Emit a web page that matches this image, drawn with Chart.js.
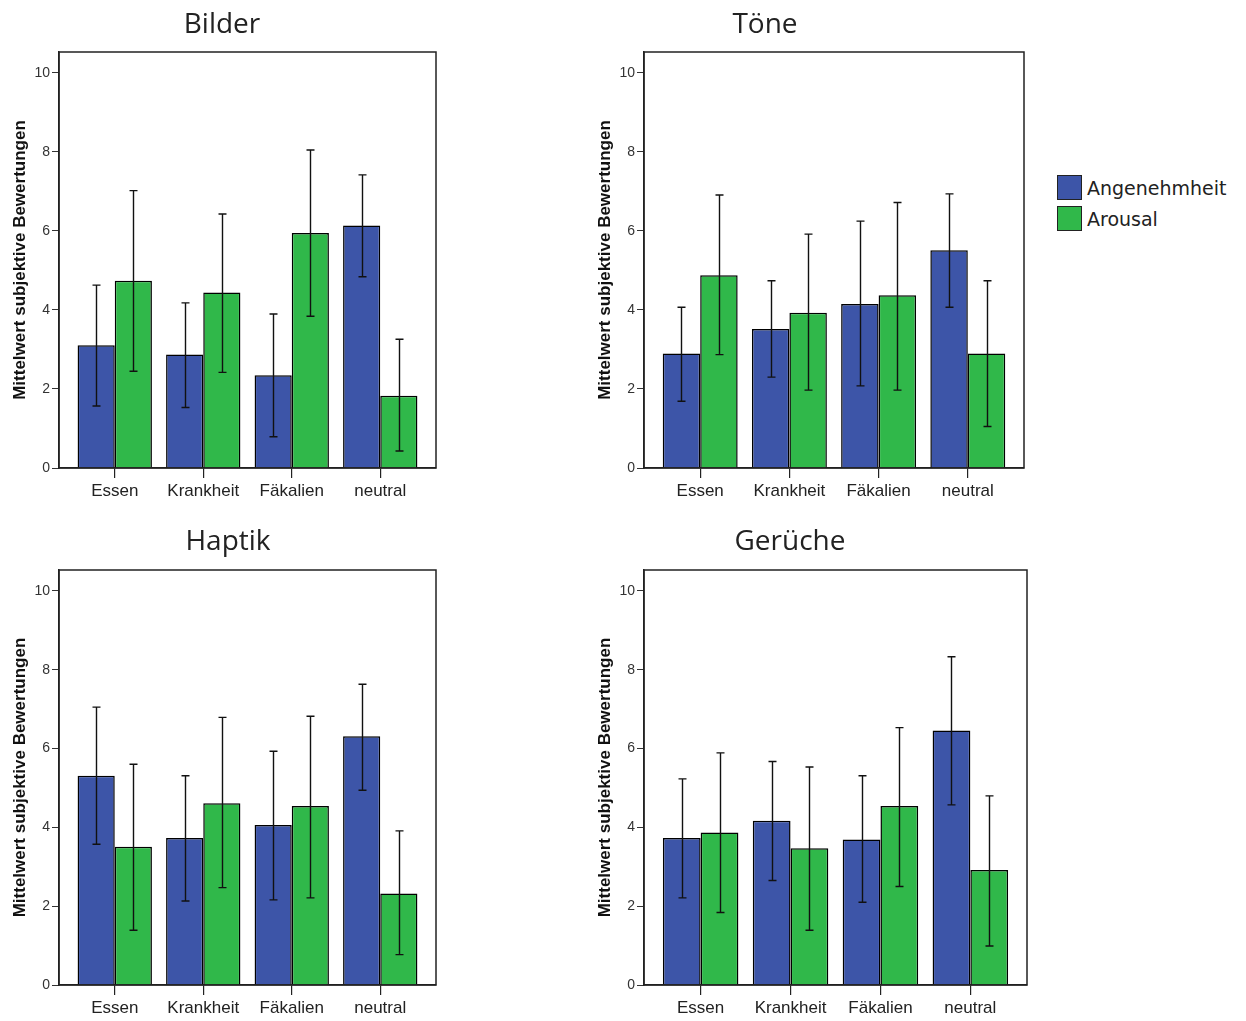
<!DOCTYPE html>
<html>
<head>
<meta charset="utf-8">
<script src="https://cdn.jsdelivr.net/npm/chart.js@4/dist/chart.umd.min.js"></script>
<style>
  body { margin:0; background:#fff; width:1246px; height:1021px; position:relative; overflow:hidden; }
  canvas { position:absolute; }
  #legend { position:absolute; left:1057px; top:172px; font-family:"DejaVu Sans", Verdana, sans-serif; font-size:19px; color:#222; }
  .item { display:flex; align-items:center; height:31px; }
  .box { width:23px; height:23px; border:1px solid #222; margin-right:5px; }
</style>
</head>
<body>
<canvas id="c1" width="460" height="520" style="left:0;top:0"></canvas>
<canvas id="c2" width="460" height="520" style="left:585px;top:0"></canvas>
<canvas id="c3" width="460" height="520" style="left:0;top:518px"></canvas>
<canvas id="c4" width="460" height="520" style="left:585px;top:518px"></canvas>
<div id="legend"></div>
<script>
const categories = ['Essen', 'Krankheit', 'Fäkalien', 'neutral']
const seriesNames = ['Angenehmheit', 'Arousal']
const seriesColors = ['#3d55a8', '#30b84a']
const yTicks = [0, 2, 4, 6, 8, 10]

// Bilder
const bilderAng = [3.11, 2.87, 2.35, 6.14]
const bilderAngLo = [1.57, 1.53, 0.79, 4.84]
const bilderAngHi = [4.63, 4.18, 3.90, 7.42]
const bilderAro = [4.74, 4.44, 5.95, 1.83]
const bilderAroLo = [2.45, 2.42, 3.84, 0.43]
const bilderAroHi = [7.02, 6.43, 8.05, 3.26]

// Töne
const toeneAng = [2.90, 3.52, 4.15, 5.51]
const toeneAngLo = [1.69, 2.30, 2.08, 4.07]
const toeneAngHi = [4.07, 4.74, 6.25, 6.94]
const toeneAro = [4.88, 3.93, 4.37, 2.90]
const toeneAroLo = [2.87, 1.97, 1.97, 1.05]
const toeneAroHi = [6.91, 5.92, 6.72, 4.74]

// Haptik
const haptikAng = [5.31, 3.73, 4.06, 6.31]
const haptikAngLo = [3.57, 2.13, 2.16, 4.94]
const haptikAngHi = [7.05, 5.31, 5.93, 7.63]
const haptikAro = [3.51, 4.61, 4.54, 2.32]
const haptikAroLo = [1.39, 2.47, 2.21, 0.77]
const haptikAroHi = [5.60, 6.79, 6.82, 3.91]

// Gerüche
const geruecheAng = [3.73, 4.17, 3.69, 6.46]
const geruecheAngLo = [2.21, 2.65, 2.10, 4.57]
const geruecheAngHi = [5.23, 5.67, 5.31, 8.33]
const geruecheAro = [3.87, 3.47, 4.54, 2.92]
const geruecheAroLo = [1.84, 1.39, 2.50, 0.99]
const geruecheAroHi = [5.89, 5.53, 6.53, 4.80]

//=============== PLUGINS: frame, error bars, panel title ===============
const framePlugin = {
  id: 'frame',
  afterDraw(chart) {
    const a = chart.chartArea, ctx = chart.ctx
    ctx.save()
    ctx.strokeStyle = '#222'
    ctx.lineWidth = 1.5
    ctx.strokeRect(a.left, a.top, a.right - a.left, a.bottom - a.top)
    ctx.restore()
  }
}

const errorBarPlugin = {
  id: 'errorBars',
  afterDatasetsDraw(chart) {
    const ctx = chart.ctx, y = chart.scales.y
    ctx.save()
    ctx.strokeStyle = '#111'
    ctx.lineWidth = 1.4
    chart.data.datasets.forEach((ds, di) => {
      chart.getDatasetMeta(di).data.forEach((bar, i) => {
        const x = Math.round(bar.x) + 0.5
        const top = y.getPixelForValue(ds.hi[i])
        const bot = y.getPixelForValue(ds.lo[i])
        ctx.beginPath()
        ctx.moveTo(x, top); ctx.lineTo(x, bot)
        ctx.moveTo(x - 4, top); ctx.lineTo(x + 4, top)
        ctx.moveTo(x - 4, bot); ctx.lineTo(x + 4, bot)
        ctx.stroke()
      })
    })
    ctx.restore()
  }
}

const titlePlugin = {
  id: 'panelTitle',
  afterDraw(chart, args, opts) {
    const ctx = chart.ctx
    ctx.save()
    ctx.font = '28px "Open Sans", sans-serif'
    ctx.fillStyle = '#222'
    ctx.textAlign = 'center'
    ctx.textBaseline = 'middle'
    ctx.fillText(opts.text, opts.x, opts.y)
    ctx.restore()
  }
}

const makePanel = (id, title, titleX, titleY, padRight, padBottom, ang, angLo, angHi, aro, aroLo, aroHi) => {
  const ctx = document.getElementById(id).getContext('2d')
  return new Chart(ctx, {
    type: 'bar',
    data: {
      datasets: [
        {
          label: seriesNames[0],
          data: ang.map((v, i) => ({x: i, y: v})),
          lo: angLo, hi: angHi,
          backgroundColor: seriesColors[0],
          borderColor: '#000',
          borderWidth: 1.5
        },
        {
          label: seriesNames[1],
          data: aro.map((v, i) => ({x: i, y: v})),
          lo: aroLo, hi: aroHi,
          backgroundColor: seriesColors[1],
          borderColor: '#000',
          borderWidth: 1.5
        }
      ]
    },
    options: {
      responsive: false,
      animation: false,
      categoryPercentage: 0.84,
      barPercentage: 1.0,
      layout: { padding: { top: 52, right: padRight, bottom: padBottom, left: 0 } },
      plugins: {
        legend: { display: false },
        tooltip: { enabled: false },
        panelTitle: { text: title, x: titleX, y: titleY }
      },
      scales: {
        x: {
          type: 'linear',
          min: -0.63,
          max: 3.63,
          offset: false,
          afterBuildTicks: (s) => { s.ticks = categories.map((c, i) => ({value: i})) },
          afterFit: (s) => { s.height = 40 },
          ticks: {
            callback: (v) => categories[v],
            font: { family: '"Liberation Sans Narrow", "Liberation Sans", Arial, sans-serif', size: 17 },
            color: '#222',
            padding: 3,
            maxRotation: 0,
            autoSkip: false
          },
          grid: { offset: false, drawOnChartArea: false, drawTicks: true, tickLength: 10, color: '#222', lineWidth: 1.2 },
          border: { display: true, color: '#222', width: 1.5 }
        },
        y: {
          min: 0,
          max: 10.53,
          afterBuildTicks: (s) => { s.ticks = yTicks.map(v => ({value: v})) },
          afterFit: (s) => { s.width = 59 },
          ticks: {
            font: { family: '"Liberation Sans", Arial, sans-serif', size: 14 },
            color: '#333',
            padding: 2
          },
          grid: { drawOnChartArea: false, drawTicks: true, tickLength: 7, color: '#333' },
          border: { display: true, color: '#222', width: 1.5 },
          title: {
            display: true,
            text: 'Mittelwert subjektive Bewertungen',
            font: { family: '"Liberation Sans", Arial, sans-serif', size: 17, weight: 'bold' },
            color: '#111',
            padding: { top: 10, bottom: 0 }
          }
        }
      }
    },
    plugins: [framePlugin, errorBarPlugin, titlePlugin]
  })
}

makePanel('c1', 'Bilder', 222, 25, 24, 12, bilderAng, bilderAngLo, bilderAngHi, bilderAro, bilderAroLo, bilderAroHi)
makePanel('c2', 'Töne', 180, 25, 21, 12, toeneAng, toeneAngLo, toeneAngHi, toeneAro, toeneAroLo, toeneAroHi)
makePanel('c3', 'Haptik', 228, 24, 24, 13, haptikAng, haptikAngLo, haptikAngHi, haptikAro, haptikAroLo, haptikAroHi)
makePanel('c4', 'Gerüche', 205, 24, 18, 13, geruecheAng, geruecheAngLo, geruecheAngHi, geruecheAro, geruecheAroLo, geruecheAroHi)

//=============== LEGEND ===============
const legend = document.querySelector('#legend')
seriesNames.forEach((name, i) => {
  legend.innerHTML += `<div class="item"><div class="box" style="background:${seriesColors[i]}"></div>${name}</div>`
})
</script>
</body>
</html>
